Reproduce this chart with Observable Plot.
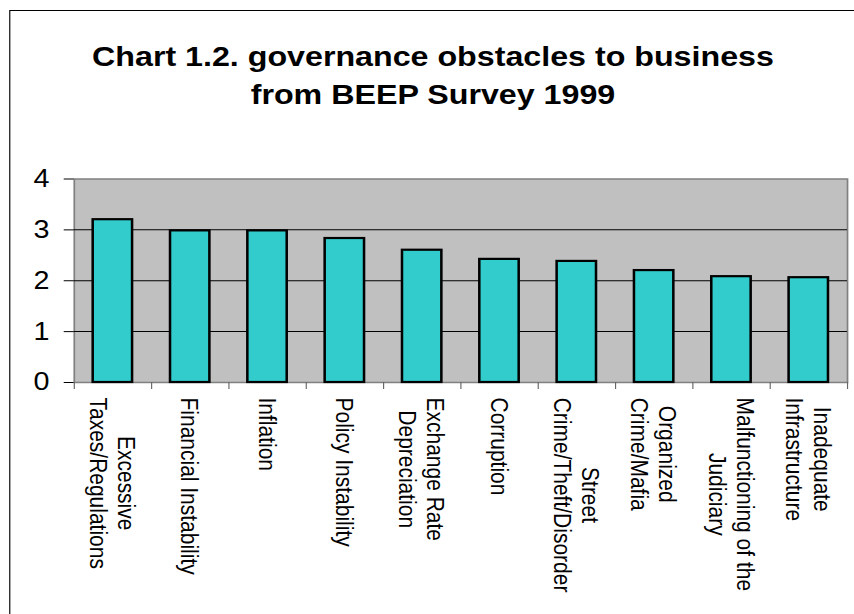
<!DOCTYPE html>
<html>
<head>
<meta charset="utf-8">
<script src="https://cdn.jsdelivr.net/npm/d3@7"></script>
<script src="https://cdn.jsdelivr.net/npm/@observablehq/plot@0.6"></script>
<style>
  html, body { margin: 0; padding: 0; background: #fff; overflow: hidden; }
  #stage { position: absolute; left: 0; top: 0; height: 614px; transform-origin: 0 0; }
  #box { position: absolute; left: 7.8px; top: 10px; width: 770px; height: 700px; border: 1px solid #000; box-sizing: border-box; }
  #title { position: absolute; left: 8px; width: 737px; top: 38px; text-align: center;
           font: bold 28px/38px "Liberation Sans", Arial, sans-serif; color: #000; }
  #chart { position: absolute; left: 0; top: 130px; }
</style>
</head>
<body>
<div id="stage">
  <div id="box"></div>
  <div id="title">Chart 1.2. governance obstacles to business<br>from BEEP Survey 1999</div>
  <div id="chart"></div>
</div>
<script>
const categories = [
  "Excessive\nTaxes/Regulations",
  "Financial Instability",
  "Inflation",
  "Policy Instability",
  "Exchange Rate\nDepreciation",
  "Corruption",
  "Street\nCrime/Theft/Disorder",
  "Organized\nCrime/Mafia",
  "Malfunctioning of the\nJudiciary",
  "Inadequate\nInfrastructure"
];
const values = [3.2, 2.98, 2.98, 2.83, 2.6, 2.42, 2.38, 2.2, 2.08, 2.06];
const yTicks = [0, 1, 2, 3, 4];
const gridValues = [1, 2, 3];

const s = 1.15;           // horizontal stretch of the reference image
const W = 854 / s;

const data = categories.map((c, i) => ({label: c, value: values[i], i}));
const boundaries = d3.range(categories.length + 1);
const centers = categories.map((c, i) => i + 0.5);

const stage = document.getElementById("stage");
stage.style.width = W + "px";
stage.style.transform = `scaleX(${s})`;

const chart = Plot.plot({
  width: W,
  height: 484,
  marginTop: 48.5,
  marginBottom: 232,
  marginLeft: 64.1,
  marginRight: W - 736.5,
  style: {fontFamily: "'Liberation Sans', Arial, sans-serif", color: "#000", background: "transparent", overflow: "visible"},
  x: {type: "linear", domain: [0, categories.length]},
  y: {domain: [0, 4]},
  marks: [
    Plot.frame({fill: "#C0C0C0", stroke: "#808080", strokeWidth: 1.5}),
    Plot.ruleY(gridValues, {stroke: "#000", strokeWidth: 1}),
    Plot.rectY(data, {x1: "i", x2: d => d.i + 1, y1: 0, y2: "value",
      fill: "#33CCCC", stroke: "#000", strokeWidth: 2.2, insetLeft: 16.5, insetRight: 16.5}),
    Plot.axisY(yTicks, {tickSize: 8.7, tickPadding: 12.8, fontSize: 25, label: null, stroke: "#000",
      tickFormat: d => String(d)}),
    Plot.axisX(boundaries, {tickSize: 7, tickFormat: () => "", stroke: "#666", label: null}),
    Plot.axisX(centers, {tickSize: 0, tickPadding: 15, tickRotate: 90, fontSize: 21, lineHeight: 1.15,
      label: null, tickFormat: v => categories[Math.floor(v)]})
  ]
});
document.getElementById("chart").appendChild(chart);

// centre the lines of multi-line category labels within their block
chart.querySelectorAll("text").forEach(t => {
  const spans = t.querySelectorAll("tspan");
  if (spans.length > 1) {
    const w = t.getBBox().width;
    t.setAttribute("text-anchor", "middle");
    spans.forEach(sp => sp.setAttribute("x", w / 2));
  }
});
</script>
</body>
</html>
